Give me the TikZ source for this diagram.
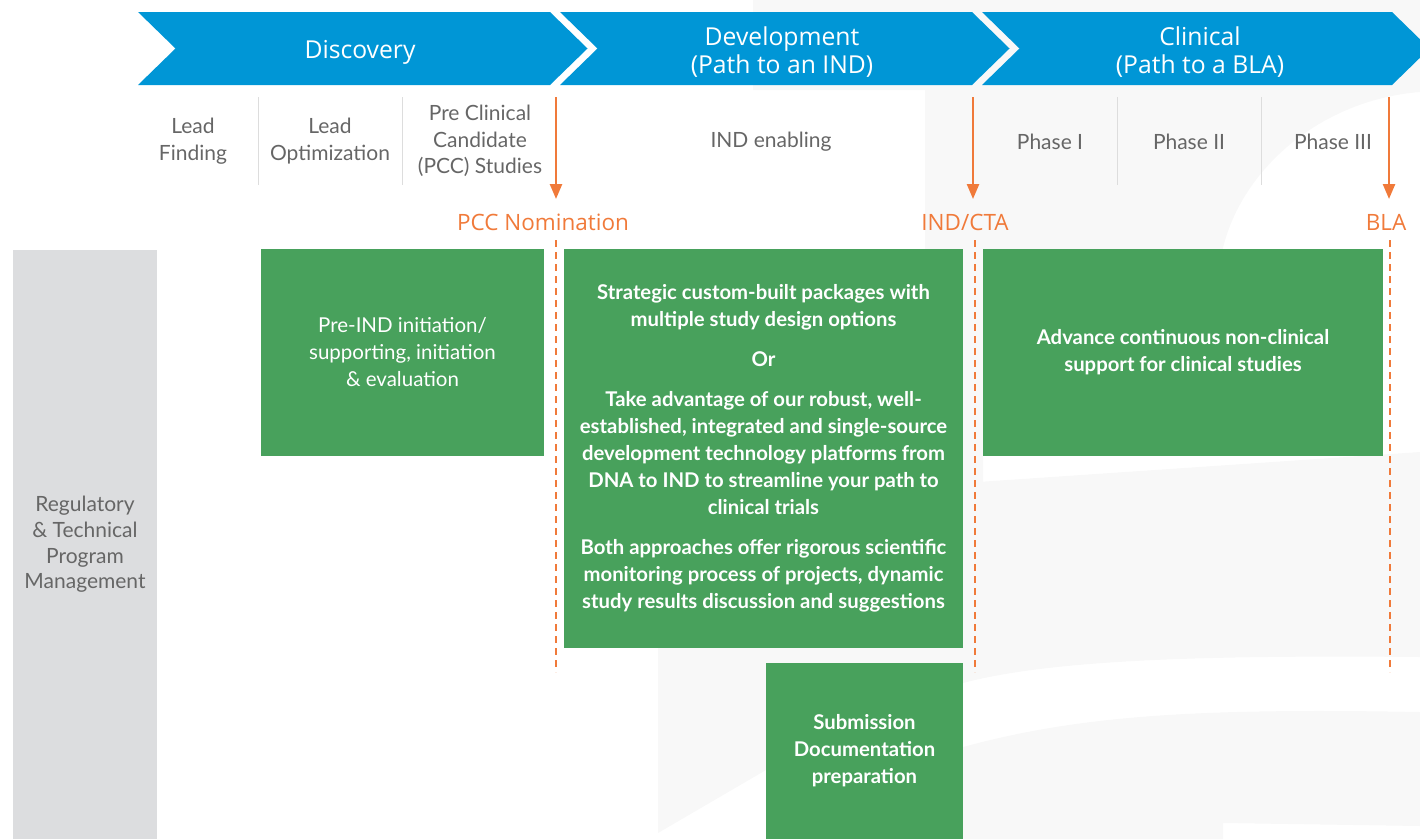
\documentclass[tikz,border=0pt]{standalone}
\usepackage{fontspec}
\setmainfont{Lato}
\newfontfamily\headfont{Open Sans}
\usetikzlibrary{arrows.meta,positioning}
\definecolor{chevblue}{HTML}{0096D6}
\definecolor{boxgreen}{HTML}{48A15C}
\definecolor{gateorange}{HTML}{F07A3A}
\definecolor{panelgray}{HTML}{DCDDDF}
\definecolor{textgray}{HTML}{666666}
\definecolor{sepgray}{HTML}{DDDDDD}
\definecolor{wmgray}{HTML}{F8F8F8}

\begin{document}
\begin{tikzpicture}[x=1pt,y=-1pt]
\tikzstyle{chevron}=[fill=chevblue]
\tikzstyle{headtext}=[text=white,font=\headfont\fontsize{24.7}{28}\selectfont,align=center]
\tikzstyle{steptext}=[text=textgray,font=\fontsize{21}{26.5}\selectfont,align=center]
\tikzstyle{sep}=[draw=sepgray,line width=1pt]
\tikzstyle{gate}=[draw=gateorange,line width=2.5pt,-{Triangle[width=12pt,length=15pt]}]
\tikzstyle{gateline}=[draw=gateorange,line width=2.5pt,dash pattern=on 7pt off 5pt]
\tikzstyle{gatetext}=[text=gateorange,font=\headfont\fontsize{22.5}{24}\selectfont]
\tikzstyle{greenbox}=[fill=boxgreen,text=white,align=center,inner sep=0pt,font=\bfseries\fontsize{20.3}{27}\selectfont]

\useasboundingbox (0,0) rectangle (1420,839);
\clip (0,0) rectangle (1420,839);

% faint logo in the background
\fill[wmgray] (753,0) -- (1420,0) -- (1420,92) .. controls (1320,100) and (1240,170) .. (1222,252)
  -- (983,252) -- (983,483) -- (925,483) -- (925,90) -- (753,90) -- cycle;
\fill[wmgray] (963,483) -- (1420,452) -- (1420,657) .. controls (1200,655) and (1050,660) .. (963,683) -- cycle;
\fill[wmgray] (658,648) -- (963,648) -- (963,839) -- (766,839) -- (766,770) -- (658,833) -- cycle;
\fill[wmgray] (963,747) .. controls (1080,715) and (1200,708) .. (1420,712) -- (1420,826) -- (1223,823)
  -- (1223,839) -- (963,839) -- cycle;

% phases
\fill[chevron] (138,12) -- (550,12) -- (587.5,48.5) -- (550,85) -- (138,85) -- (175.5,48.5) -- cycle;
\fill[chevron] (560,12) -- (972,12) -- (1009.5,48.5) -- (972,85) -- (560,85) -- (597.5,48.5) -- cycle;
\fill[chevron] (982,12) -- (1392,12) -- (1429.5,48.5) -- (1392,85) -- (982,85) -- (1019.5,48.5) -- cycle;

\node[headtext] (disc) at (360,52) {Discovery};
\node[headtext] (dev) at (782,52) {Development\\(Path to an IND)};
\node[headtext] (clin) at (1200,52) {Clinical\\(Path to a BLA)};

% steps
\node[steptext] (leadfind) at (193,141) {Lead\\Finding};
\node[steptext] (leadopt) at (330,141) {Lead\\Optimization};
\node[steptext] (pccstud) at (480,141) {Pre Clinical\\Candidate\\(PCC) Studies};
\node[steptext] (indenab) at (771,142) {IND enabling};
\node[steptext] (phaseI) at (1050,142) {Phase I};
\node[steptext] (phaseII) at (1189,142) {Phase II};
\node[steptext] (phaseIII) at (1333,142) {Phase III};

\draw[sep] (258,97) -- (258,185);
\draw[sep] (402,97) -- (402,185);
\draw[sep] (1117,97) -- (1117,185);
\draw[sep] (1261,97) -- (1261,185);

% milestones
\coordinate (pcctop) at (556,97);
\coordinate (pcctip) at (556,199);
\coordinate (pccdash) at (556,240);
\coordinate (pccend) at (556,672);
\coordinate (indtop) at (973,97);
\coordinate (indtip) at (973,199);
\coordinate (inddash) at (975,240);
\coordinate (indend) at (975,672);
\coordinate (blatop) at (1389,97);
\coordinate (blatip) at (1389,199);
\coordinate (bladash) at (1390,240);
\coordinate (blaend) at (1390,672);

\node[gatetext] (pccnom) at (543,222) {PCC Nomination};
\node[gatetext] (indcta) at (965,222) {IND/CTA};
\node[gatetext] (bla) at (1386,222) {BLA};

\draw[gate] (pcctop) -- (pcctip);
\draw[gate] (indtop) -- (indtip);
\draw[gate] (blatop) -- (blatip);
\draw[gateline] (pccdash) -- (pccend);
\draw[gateline] (inddash) -- (indend);
\draw[gateline] (bladash) -- (blaend);

% services
\node[fill=panelgray,text=textgray,align=center,inner sep=0pt,minimum width=144pt,minimum height=589pt,
  font=\fontsize{21}{25.7}\selectfont] (rtpm) at (85,544.5) {Regulatory\\\& Technical\\Program\\Management};

\node[greenbox,font=\fontsize{20.5}{27}\selectfont,minimum width=283pt,minimum height=207pt] (preind)
  at (402.5,352.5) {Pre-IND initiation/\\supporting, initiation\\\& evaluation};
\node[greenbox,minimum width=399pt,minimum height=399pt] (strat) at (763.5,448.5)
  {Strategic custom-built packages with\\multiple study design options\\[13pt]
   Or\\[13pt]
   Take advantage of our robust, well-\\established, integrated and single-source\\development technology platforms from\\DNA to IND to streamline your path to\\clinical trials\\[13pt]
   Both approaches offer rigorous scientific\\monitoring process of projects, dynamic\\study results discussion and suggestions};
\node[greenbox,minimum width=400pt,minimum height=207pt] (advance) at (1183,352.5)
  {Advance continuous non-clinical\\support for clinical studies};
\node[greenbox,minimum width=197pt,minimum height=176pt] (submit) at (864.5,751)
  {Submission\\Documentation\\preparation};
\end{tikzpicture}
\end{document}
